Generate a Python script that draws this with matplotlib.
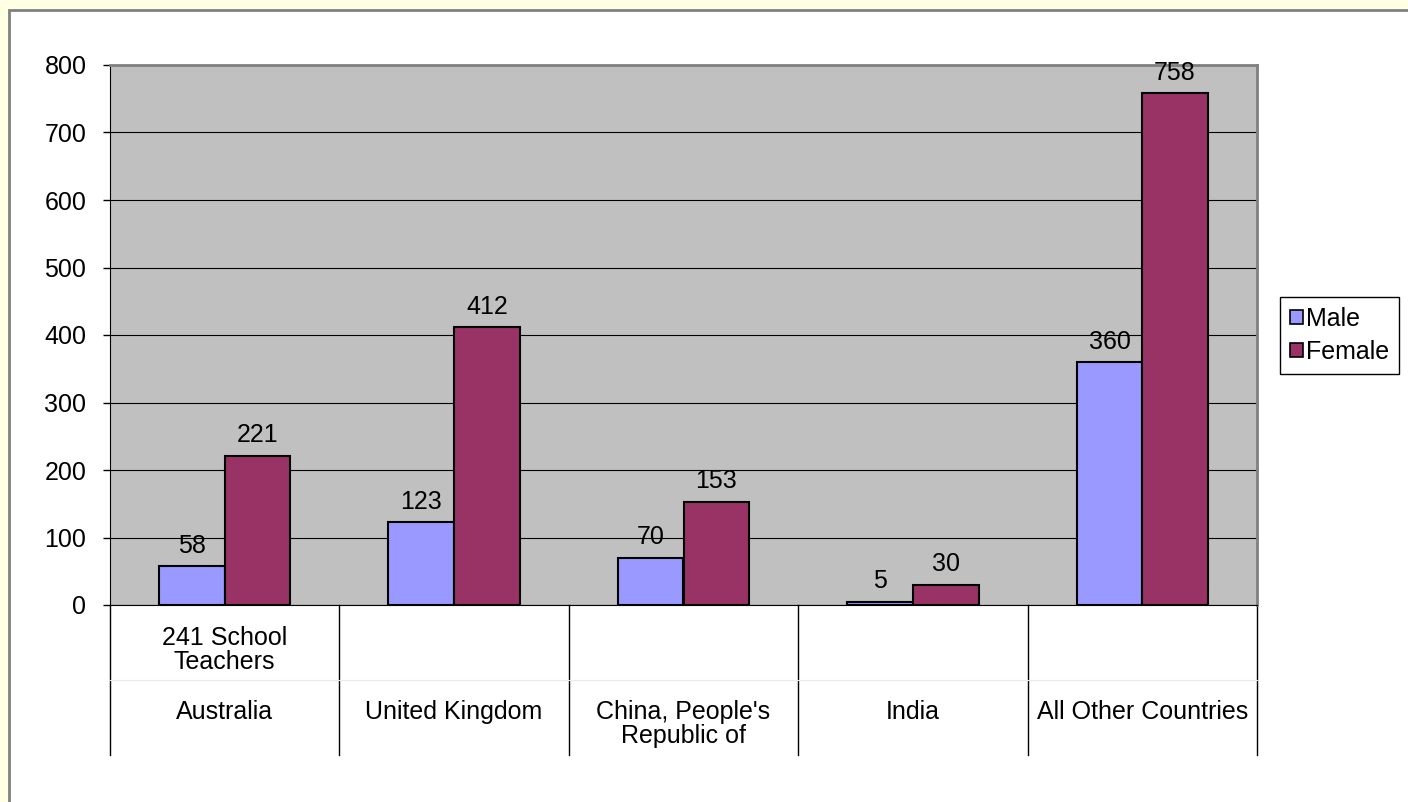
import matplotlib
matplotlib.use("Agg")
import matplotlib.pyplot as plt
import numpy as np
from matplotlib.patches import Patch, Rectangle
from matplotlib.transforms import blended_transform_factory

countries = ["Australia", "United Kingdom", "China, People's\nRepublic of", "India", "All Other Countries"]
sub_labels = ["241 School\nTeachers", "", "", "", ""]
male = [58, 123, 70, 5, 360]
female = [221, 412, 153, 30, 758]
yticks = [0, 100, 200, 300, 400, 500, 600, 700, 800]

W, H = 1408, 802
FS = 18
plt.rcParams["font.family"] = ["Liberation Sans", "DejaVu Sans"]
plt.rcParams["font.size"] = FS

fig = plt.figure(figsize=(W / 100, H / 100), dpi=100)
fig.patch.set_facecolor("#FFFFE3")

# white chart area with a grey frame running off the right/bottom edges
fig.patches.append(Rectangle((9 / W, -0.05), 1.1, 1 - 10 / H + 0.05, transform=fig.transFigure,
                             facecolor="white", edgecolor="#808080", lw=2, zorder=-5))


def px(x, y):
    return x / W, 1 - y / H


left, top = px(110, 65)
right, bottom = px(1257, 605)
ax = fig.add_axes([left, bottom, right - left, top - bottom])
ax.set_facecolor("#C0C0C0")

x = np.arange(len(countries))
bw = 0.286
b1 = ax.bar(x - bw / 2, male, bw, color="#9999FF", edgecolor="black", lw=1.5, zorder=3)
b2 = ax.bar(x + bw / 2, female, bw, color="#993366", edgecolor="black", lw=1.5, zorder=3)

for bars, vals in ((b1, male), (b2, female)):
    for b, v in zip(bars, vals):
        ax.annotate(str(v), (b.get_x() + b.get_width() / 2, v), xytext=(0, 6),
                    textcoords="offset points", ha="center", va="bottom", fontsize=FS, zorder=4)

ax.set_xlim(-0.5, len(countries) - 0.5)
ax.set_ylim(0, 800)
ax.set_yticks(yticks)
ax.yaxis.grid(True, color="black", lw=0.8, zorder=1)
ax.set_axisbelow(True)
ax.set_xticks([])
ax.tick_params(axis="y", direction="out", length=5, width=1, pad=12, labelsize=FS)
ax.spines["left"].set_color("black")
ax.spines["bottom"].set_color("black")
ax.spines["top"].set_color("#808080")
ax.spines["right"].set_color("#808080")
for s in ("top", "right"):
    ax.spines[s].set_linewidth(2)

# two-level category axis underneath the plot
tr = blended_transform_factory(ax.transData, fig.transFigure)
_, y_axis = px(0, 605)
_, y_end = px(0, 755)
_, y_mid = px(0, 680)
for xb in np.arange(len(countries) + 1) - 0.5:
    ax.plot([xb, xb], [y_axis, y_end], transform=tr, color="black", lw=1, clip_on=False)
ax.plot([-0.5, len(countries) - 0.5], [y_mid, y_mid], transform=tr, color="#EBEBEB",
        lw=0.8, clip_on=False)
_, y_sub = px(0, 650)
_, y_cty = px(0, 700)
for xi, c, s in zip(x, countries, sub_labels):
    if s:
        ax.text(xi, y_sub, s, transform=tr, ha="center", va="center", fontsize=FS, linespacing=1.0)
    ax.text(xi, y_cty, c, transform=tr, ha="center", va="top", fontsize=FS, linespacing=1.0)

handles = [Patch(facecolor="#9999FF", edgecolor="black", lw=1.2),
           Patch(facecolor="#993366", edgecolor="black", lw=1.2)]
leg = fig.legend(handles, ["Male", "Female"], loc="upper left", bbox_to_anchor=px(1280, 297),
                 fancybox=False, framealpha=1, edgecolor="black", fontsize=FS,
                 handlelength=0.5, handleheight=0.5, handletextpad=0.15, labelspacing=0.35,
                 borderpad=0.4, borderaxespad=0)
leg.get_frame().set_linewidth(1)

fig.savefig("out.png", dpi=100, facecolor=fig.get_facecolor())
